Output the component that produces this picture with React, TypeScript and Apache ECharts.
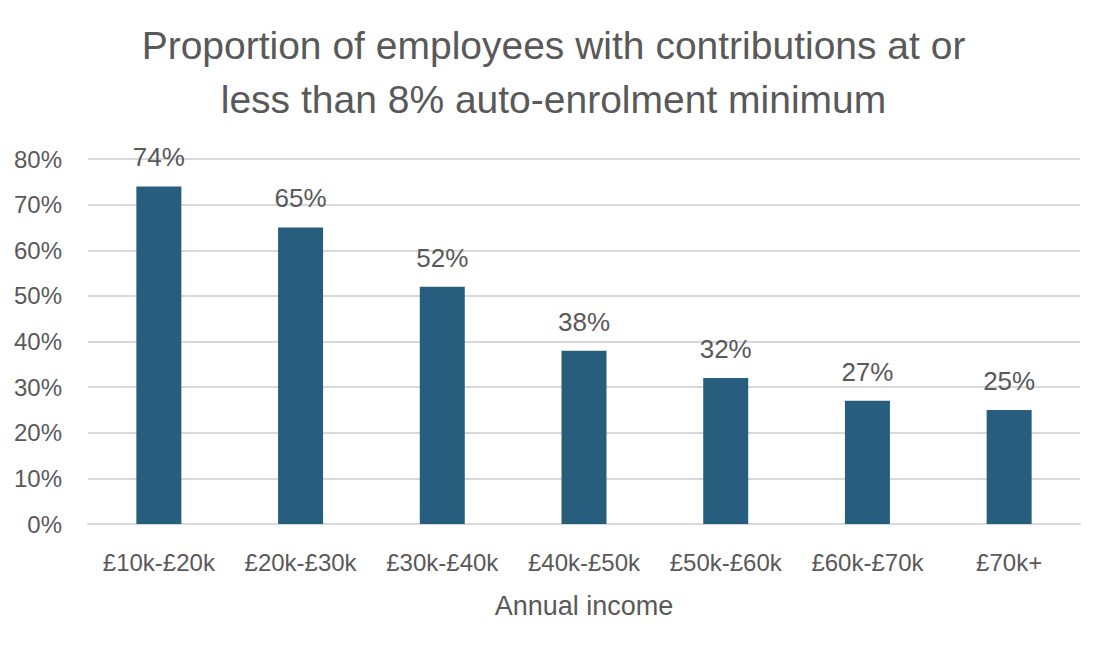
import React, { useEffect, useRef } from "react";
import * as echarts from "echarts";

const categories = ["£10k-£20k", "£20k-£30k", "£30k-£40k", "£40k-£50k", "£50k-£60k", "£60k-£70k", "£70k+"];
const values = [74, 65, 52, 38, 32, 27, 25];
const titleText = "Proportion of employees with contributions at or\nless than 8% auto-enrolment minimum";
const xAxisName = "Annual income";

const FONT = "'Liberation Sans', Arial, sans-serif";
const GREY = "#595959";

export default function App() {
  const ref = useRef<HTMLDivElement>(null);
  useEffect(() => {
    if (!ref.current) return;
    const chart = echarts.init(ref.current, undefined, { renderer: "svg" });
    chart.setOption({
      animation: false,
      backgroundColor: "#ffffff",
      title: {
        text: titleText,
        left: "center",
        top: 13,
        textStyle: { fontFamily: FONT, fontSize: 39, fontWeight: "normal", color: GREY, lineHeight: 54 },
      },
      grid: { left: 88, right: 27, top: 159, bottom: 129, containLabel: false },
      xAxis: {
        type: "category",
        data: categories,
        name: xAxisName,
        nameLocation: "middle",
        nameGap: 68,
        nameTextStyle: { fontFamily: FONT, fontSize: 27, color: GREY },
        axisLine: { show: true, lineStyle: { color: "#d9d9d9", width: 2 } },
        axisTick: { show: false },
        axisLabel: { fontFamily: FONT, fontSize: 24, color: GREY, margin: 26, interval: 0 },
      },
      yAxis: {
        type: "value",
        min: 0,
        max: 80,
        interval: 10,
        axisLine: { show: false },
        axisTick: { show: false },
        axisLabel: { fontFamily: FONT, fontSize: 24, color: GREY, margin: 26, formatter: "{value}%" },
        splitLine: { lineStyle: { color: "#d9d9d9", width: 2 } },
      },
      series: [
        {
          type: "bar",
          data: values,
          barWidth: 45,
          itemStyle: { color: "#275E7E" },
          label: {
            show: true,
            position: "top",
            distance: 16,
            formatter: "{c}%",
            fontFamily: FONT,
            fontSize: 26,
            color: GREY,
          },
        },
      ],
    });
    return () => chart.dispose();
  }, []);
  return (
    <div
      ref={ref}
      style={{ position: "absolute", left: 0, top: 0, width: 1107, height: 653 }}
    />
  );
}
